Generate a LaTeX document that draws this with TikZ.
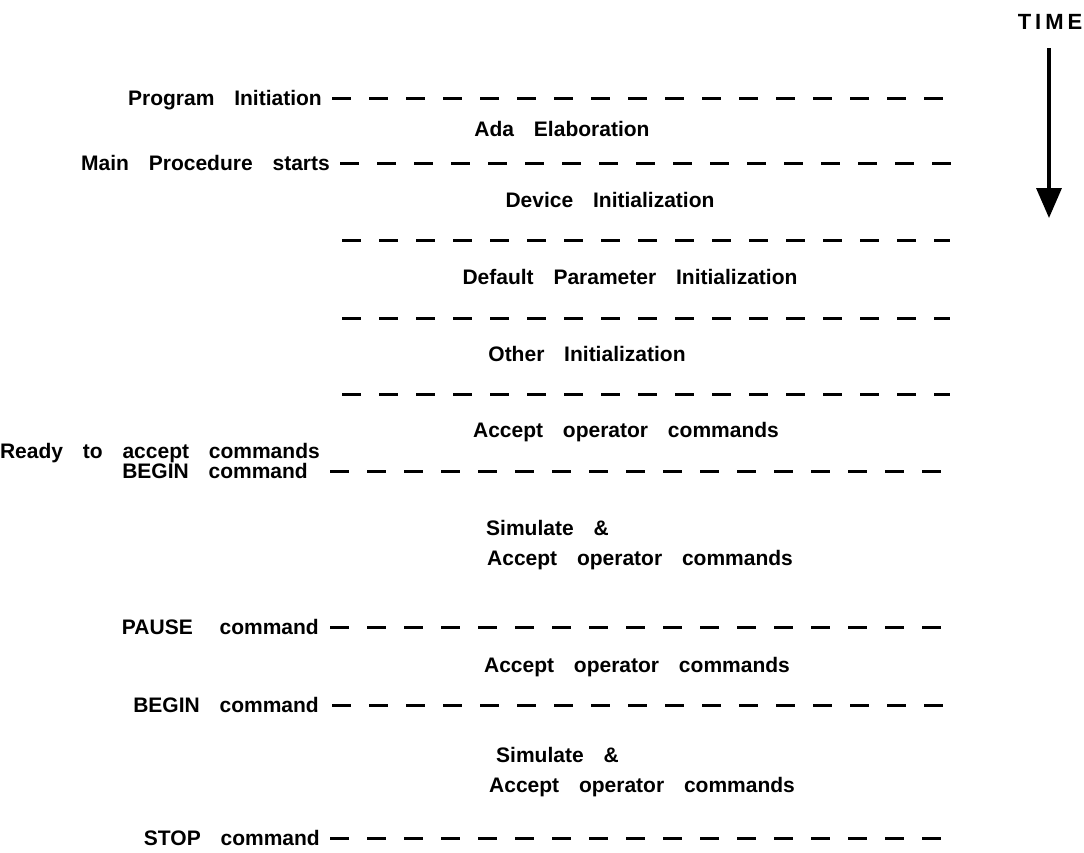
\documentclass[tikz,border=0pt]{standalone}
\usepackage{fontspec}
\setmainfont{Liberation Sans}[WordSpace=3.4]
\newfontfamily\timefont{Liberation Sans}[LetterSpace=18]
\usetikzlibrary{arrows.meta}
\begin{document}
\begin{tikzpicture}[x=1pt,y=-1pt,
  lbl/.style={font=\fontsize{21}{25}\selectfont\bfseries, inner sep=0pt, text height=15pt, text depth=0pt},
  lft/.style={lbl, anchor=east},
  lal/.style={lbl, anchor=west},
  tline/.style={line width=3pt, dash pattern=on 19pt off 18pt},
  timearrow/.style={line width=3.5pt, -{Triangle[width=25pt,length=30pt]}}]
\useasboundingbox (0,0) rectangle (1084,852);
% time arrow
\node[lbl, font=\fontsize{22}{26}\selectfont\bfseries\timefont] (time) at (1050,22) {TIME};
\coordinate (ta) at (1049,48);
\coordinate (tb) at (1049,218);
\draw[timearrow] (ta) -- (tb);
% left labels
\node[lft] (pi) at (322,98) {Program Initiation};
\node[lft] (mp) at (330,163) {Main Procedure starts};
\node[lft] (ready) at (320,451) {Ready to accept commands};
\node[lft] (begin1) at (308,471) {BEGIN command};
\node[lft] (pause) at (319,627) {PAUSE\hspace{7pt} command};
\node[lft] (begin2) at (319,705) {BEGIN command};
\node[lft] (stop) at (320,838) {STOP command};
% phases
\node[lbl] (ada) at (562,129) {Ada Elaboration};
\node[lbl] (dev) at (610,200) {Device Initialization};
\node[lbl] (def) at (630,277) {Default Parameter Initialization};
\node[lbl] (oth) at (587,354) {Other Initialization};
\node[lbl] (acc1) at (626,430) {Accept operator commands};
\node[lal] (sim1) at (486,528) {Simulate \&};
\node[lal] (sacc1) at (487,558) {Accept operator commands};
\node[lbl] (acc2) at (637,665) {Accept operator commands};
\node[lal] (sim2) at (496,755) {Simulate \&};
\node[lal] (sacc2) at (489,785) {Accept operator commands};
% time marks
\foreach \n/\xa/\xb/\y in {1/332/948/98, 2/340/958/163, 3/342/950/240, 4/342/950/318, 5/342/950/394, 6/330/946/471, 7/330/946/627, 8/332/952/705, 9/330/946/838}{
  \coordinate (m\n a) at (\xa,\y);
  \coordinate (m\n b) at (\xb,\y);
  \draw[tline] (m\n a) -- (m\n b);
}
\end{tikzpicture}
\end{document}
